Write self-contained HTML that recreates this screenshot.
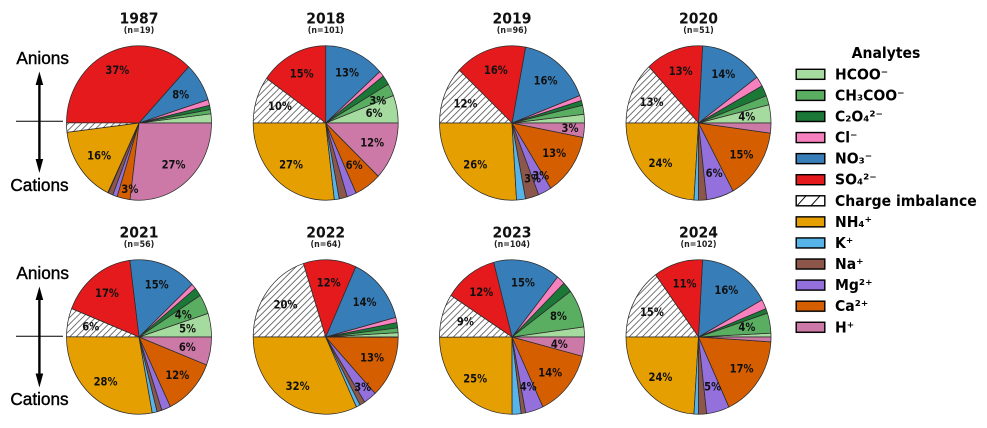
<!DOCTYPE html>
<html lang="en">
<head>
<meta charset="utf-8">
<title>Analyte composition pie charts</title>
<style>
html,body{margin:0;padding:0;background:#fff;width:987px;height:428px;overflow:hidden}
svg{display:block;filter:blur(0.3px)}
text{font-family:"DejaVu Sans","Liberation Sans",sans-serif}
.side{font-family:"Liberation Sans",sans-serif;font-size:17.2px;fill:#000;text-anchor:middle;stroke:#000;stroke-width:.4}
</style>
</head>
<body>
<svg id="chart" width="987" height="428" viewBox="0 0 987 428" xmlns="http://www.w3.org/2000/svg">
  <defs>
    <pattern id="pie-hatch" patternUnits="userSpaceOnUse" width="4.6" height="4.6" patternTransform="rotate(45)">
      <rect width="4.6" height="4.6" fill="#fff"/>
      <line x1="2.3" y1="0" x2="2.3" y2="4.6" stroke="#666" stroke-width="0.9"/>
    </pattern>
    <filter id="swatch-shadow" x="-10%" y="-30%" width="120%" height="160%">
      <feGaussianBlur stdDeviation="0.6"/>
    </filter>
  </defs>

  <g>
    <text class="side" x="42.7" y="64">Anions</text>
    <text class="side" x="39.5" y="191">Cations</text>
    <line x1="16" y1="121.3" x2="63" y2="121.3" stroke="#000" stroke-width="1"/>
    <line x1="39.4" y1="82" x2="39.4" y2="162" stroke="#000" stroke-width="2.4"/>
    <polygon points="39.4,71.5 43.2,85 35.6,85" fill="#000"/>
    <polygon points="39.4,173 43.2,159 35.6,159" fill="#000"/>
  </g>
  <g>
    <text class="side" x="42.7" y="279">Anions</text>
    <text class="side" x="39.5" y="405">Cations</text>
    <line x1="16" y1="336.3" x2="63" y2="336.3" stroke="#000" stroke-width="1"/>
    <line x1="39.4" y1="297" x2="39.4" y2="377" stroke="#000" stroke-width="2.4"/>
    <polygon points="39.4,286.5 43.2,300 35.6,300" fill="#000"/>
    <polygon points="39.4,387.5 43.2,373.5 35.6,373.5" fill="#000"/>
  </g>

  <text transform="translate(886 58) scale(1 1.05)" font-size="14" font-weight="700" text-anchor="middle" fill="#000">Analytes</text>
</svg>

<script>
const analytes = ["HCOO⁻","CH₃COO⁻","C₂O₄²⁻","Cl⁻","NO₃⁻","SO₄²⁻","Charge imbalance","NH₄⁺","K⁺","Na⁺","Mg²⁺","Ca²⁺","H⁺"];
const analyteKeys = ["hcoo","ch3coo","c2o4","cl","no3","so4","charge-imbalance","nh4","k","na","mg","ca","h"];
const analyteColors = ["#a6dba0","#5aae61","#1b7837","#f781bf","#377eb8","#e41a1c","url(#pie-hatch)","#e69f00","#56b4e9","#8c564b","#9370db","#d55e00","#cc79a7"];

const years = ["1987","2018","2019","2020","2021","2022","2023","2024"];
const sampleCounts = [19,101,96,51,56,64,104,102];

const values1987 = [1.9,0.9,0.9,1.2,8.1,37,2,16,0.1,1.1,1,2.9,27];
const values2018 = [5.8,2.6,2,1.2,13.4,15.2,9.8,26.9,1.1,1.8,2.1,6,12.1];
const values2019 = [1.8,1.9,1,1.1,16.2,16,12,26,2,3,3,13,3];
const values2020 = [3.8,1.95,2.25,2.1,14,12.9,13,24,1,1.8,6.1,15,2.1];
const values2021 = [4.95,4.1,1.8,1.1,15.1,17,5.95,28,1.1,1.1,2,12,5.9];
const values2022 = [0.9,1,1.1,1.1,14.1,11.8,20,32,0.9,1.2,2.9,13,0.05];
const values2023 = [2.1,8,2.2,1.9,14.9,11.9,9.1,25,2,1,4,14,4];
const values2024 = [0.8,4.2,1,2,16.1,11,14.9,24,1,1.8,5.1,17.1,1];
const yearValues = [values1987,values2018,values2019,values2020,values2021,values2022,values2023,values2024];

const svg = document.getElementById('chart');
const NS = 'http://www.w3.org/2000/svg';
const columnX = [139,325.7,512,698.5];
const rowY = [123,337];
const radiusX = 72.5;
const radiusY = 77.2;
const labelRadius = 0.72;
const labelMinimum = 2.5;
const labelStretch = 1.12;

/* Hand nudges for labels the original figure moved off the mid-slice position. */
const labelNudges = {
  '1987-no3':[-2.5,1],'1987-so4':[-1,-2],'1987-nh4':[2.5,0],'1987-ca':[2,11.5],
  '2018-ch3coo':[5,1.5],'2018-charge-imbalance':[4,0],'2018-ca':[-2,-3],'2018-hcoo':[-3,0],'2018-h':[-2,-1],
  '2019-charge-imbalance':[2,1],'2019-h':[6,0],'2019-ca':[-1,-1],'2019-na':[6,2],'2019-mg':[5,3],'2019-nh4':[-1,1],
  '2020-hcoo':[-3.5,0],'2020-nh4':[0,2],'2020-mg':[0,-3],'2020-charge-imbalance':[1,1],
  '2021-hcoo':[-3,0],'2021-ch3coo':[-3,1],'2021-charge-imbalance':[3,0],'2021-nh4':[0,2],'2021-h':[-3,0],
  '2022-no3':[-1,1],'2022-so4':[0,1],'2022-charge-imbalance':[2,0],'2022-nh4':[0,2],'2022-mg':[5,6],'2022-ca':[-1.5,-1.5],
  '2023-charge-imbalance':[3.5,0],'2023-ch3coo':[-2,0],'2023-nh4':[0,2],'2023-mg':[0,-3.5],'2023-ca':[-2,0],'2023-h':[-4.5,0],
  '2024-nh4':[0,2],'2024-ch3coo':[-3,0],'2024-mg':[0,-4],'2024-so4':[1,0]
};

function make(tag, attrs, parent) {
  const el = document.createElementNS(NS, tag);
  for (const k in attrs) el.setAttribute(k, attrs[k]);
  parent.appendChild(el);
  return el;
}
function px(cx, deg, r) { return cx + radiusX * r * Math.cos(deg * Math.PI / 180); }
function py(cy, deg, r) { return cy - radiusY * r * Math.sin(deg * Math.PI / 180); }

function drawPie(index) {
  const cx = columnX[index % 4];
  const cy = rowY[Math.floor(index / 4)];
  const year = years[index];
  const values = yearValues[index];
  const total = values.reduce(function (a, b) { return a + b; }, 0);

  const group = make('g', {}, svg);
  
  

  const title = make('text', {transform: 'translate(' + cx + ' ' + (23.5 + cy - 123) + ') scale(1 1.08)', 'font-size': 14, 'font-weight': 700, 'text-anchor': 'middle', fill: '#111'}, group);
  title.textContent = year;
  
  

  const count = make('text', {transform: 'translate(' + cx + ' ' + (33 + cy - 123) + ') scale(1 1.08)', 'font-size': 7.9, 'font-weight': 700, 'text-anchor': 'middle', fill: '#222'}, group);
  count.textContent = '(n=' + sampleCounts[index] + ')';
  
  

  let cumulative = 0;
  values.forEach(function (v, i) {
    const a0 = cumulative / total * 360;
    cumulative += v;
    const a1 = cumulative / total * 360;
    const large = (a1 - a0) > 180 ? 1 : 0;
    const d = 'M' + cx + ' ' + cy +
      'L' + px(cx, a0, 1).toFixed(2) + ' ' + py(cy, a0, 1).toFixed(2) +
      'A' + radiusX + ' ' + radiusY + ' 0 ' + large + ' 0 ' +
      px(cx, a1, 1).toFixed(2) + ' ' + py(cy, a1, 1).toFixed(2) + 'Z';
    const slice = make('path', {d: d, fill: analyteColors[i], stroke: '#2b2b2b', 'stroke-width': 0.75, 'stroke-linejoin': 'round'}, group);
    
    
  });

  cumulative = 0;
  values.forEach(function (v, i) {
    const mid = (cumulative + v / 2) / total * 360;
    cumulative += v;
    if (v / total * 100 < labelMinimum) return;
    const nudge = labelNudges[year + '-' + analyteKeys[i]] || [0, 0];
    const lx = px(cx, mid, labelRadius) + nudge[0];
    const ly = py(cy, mid, labelRadius) + nudge[1] + 4;
    const label = make('text', {transform: 'translate(' + lx.toFixed(2) + ' ' + ly.toFixed(2) + ') scale(1 ' + labelStretch + ')', 'font-size': 10, 'font-weight': 700, 'text-anchor': 'middle', fill: '#111'}, group);
    label.textContent = Math.round(v / total * 100) + '%';
    
    
  });
}
years.forEach(function (y, i) { drawPie(i); });

const legendGroup = make('g', {}, svg);



analytes.forEach(function (name, i) {
  const y = 74.3 + i * 21.08;
  const entry = make('g', {}, legendGroup);
  
  

  make('rect', {x: 796, y: y - 5, width: 29, height: 10.4, fill: '#999', filter: 'url(#swatch-shadow)'}, entry);
  const isHatch = analyteKeys[i] === 'charge-imbalance';
  const swatch = make('rect', {x: 796.2, y: y - 5, width: 28.6, height: 10, fill: isHatch ? '#fff' : analyteColors[i], stroke: '#000', 'stroke-width': 1.4}, entry);
  
  
  if (isHatch) {
    const hatchA = make('line', {x1: 797, y1: y + 5, x2: 806, y2: y - 5, stroke: '#000', 'stroke-width': 1}, entry);
    
    
    const hatchB = make('line', {x1: 811, y1: y + 5, x2: 820, y2: y - 5, stroke: '#000', 'stroke-width': 1}, entry);
    
    
  }
  const text = make('text', {transform: 'translate(835 ' + (y + 5) + ') scale(1 1.05)', 'font-size': 14, 'font-weight': 700, fill: '#000'}, entry);
  text.textContent = name;
  
  
});
</script>
</body>
</html>
